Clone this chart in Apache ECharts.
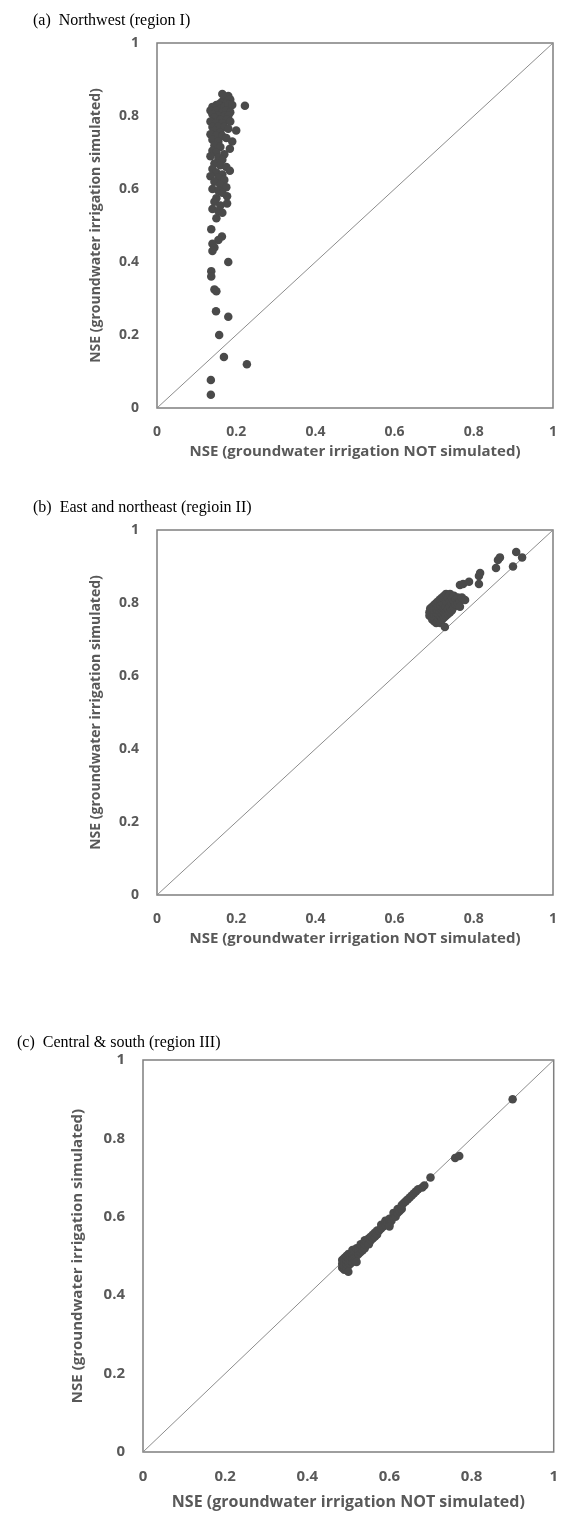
<!DOCTYPE html>
<html>
<head>
<meta charset="utf-8">
<script src="https://cdn.jsdelivr.net/npm/echarts@6/dist/echarts.min.js"></script>
<style>
html,body{margin:0;padding:0;background:#fff;}
#main{width:561px;height:1516px;}
</style>
</head>
<body>
<div id="main"></div>
<script>
// ---------- data ----------
const panelTitles = ['(a)  Northwest (region I)', '(b)  East and northeast (regioin II)', '(c)  Central & south (region III)'];
const xAxisTitle = 'NSE (groundwater irrigation NOT simulated)';
const yAxisTitle = 'NSE (groundwater irrigation simulated)';
const tickValues = [0, 0.2, 0.4, 0.6, 0.8, 1];
const diagonal = [[0, 0], [1, 1]];

// (a) Northwest: [NSE not simulated, NSE simulated]
const regionI = [
  [0.180,0.855],[0.175,0.850],[0.170,0.845],[0.185,0.845],[0.165,0.840],[0.160,0.835],[0.175,0.835],
  [0.150,0.830],[0.155,0.830],[0.140,0.825],[0.145,0.820],[0.160,0.820],[0.170,0.825],[0.180,0.830],
  [0.190,0.830],[0.135,0.815],[0.150,0.815],[0.165,0.810],[0.175,0.815],[0.185,0.810],[0.140,0.805],
  [0.155,0.800],[0.170,0.800],[0.180,0.800],[0.145,0.795],[0.160,0.790],[0.175,0.790],[0.135,0.785],
  [0.150,0.780],[0.165,0.780],[0.185,0.785],[0.140,0.770],[0.155,0.770],[0.170,0.770],[0.180,0.765],
  [0.145,0.760],[0.160,0.755],[0.200,0.760],[0.135,0.750],[0.150,0.745],[0.165,0.745],[0.175,0.740],
  [0.140,0.735],[0.155,0.730],[0.190,0.730],[0.222,0.828],[0.165,0.860],
  [0.145,0.720],[0.160,0.715],[0.184,0.710],[0.140,0.705],[0.150,0.700],[0.170,0.695],[0.135,0.690],
  [0.155,0.685],[0.165,0.680],[0.145,0.670],[0.160,0.665],[0.175,0.660],[0.140,0.655],[0.184,0.650],
  [0.150,0.645],[0.165,0.640],[0.135,0.635],[0.155,0.630],[0.170,0.625],[0.145,0.620],[0.160,0.610],
  [0.175,0.605],[0.140,0.600],[0.155,0.595],[0.165,0.590],[0.177,0.580],[0.150,0.575],[0.145,0.565],
  [0.177,0.560],[0.160,0.555],[0.140,0.545],[0.155,0.540],[0.165,0.535],[0.150,0.520],
  [0.137,0.490],[0.164,0.470],[0.155,0.460],[0.140,0.450],[0.145,0.440],[0.140,0.430],[0.180,0.400],
  [0.137,0.375],[0.137,0.360],[0.145,0.325],[0.150,0.320],[0.149,0.265],[0.180,0.250],[0.157,0.200],
  [0.169,0.140],[0.227,0.120],[0.136,0.077],[0.136,0.036]
];

// (b) East and northeast
const regionII = [
  [0.688,0.765],[0.688,0.775],[0.690,0.785],[0.695,0.755],[0.695,0.765],[0.695,0.775],[0.695,0.790],
  [0.700,0.750],[0.700,0.760],[0.700,0.770],[0.700,0.780],[0.700,0.795],[0.705,0.745],[0.705,0.765],
  [0.705,0.775],[0.705,0.785],[0.705,0.800],[0.710,0.750],[0.710,0.760],[0.710,0.770],[0.710,0.780],
  [0.710,0.790],[0.710,0.805],[0.715,0.745],[0.715,0.765],[0.715,0.775],[0.715,0.785],[0.715,0.795],
  [0.715,0.810],[0.720,0.755],[0.720,0.770],[0.720,0.780],[0.720,0.790],[0.720,0.800],[0.720,0.815],
  [0.725,0.760],[0.725,0.775],[0.725,0.785],[0.725,0.795],[0.725,0.820],[0.730,0.765],[0.730,0.780],
  [0.730,0.790],[0.730,0.805],[0.730,0.825],[0.735,0.770],[0.735,0.785],[0.735,0.815],[0.740,0.775],
  [0.740,0.790],[0.740,0.805],[0.740,0.825],[0.745,0.780],[0.745,0.800],[0.745,0.815],[0.750,0.790],
  [0.750,0.805],[0.750,0.820],[0.755,0.795],[0.755,0.810],[0.760,0.800],[0.760,0.815],[0.765,0.805],
  [0.765,0.790],[0.770,0.815],[0.727,0.734],[0.778,0.808],[0.765,0.849],[0.773,0.852],[0.788,0.858],
  [0.813,0.852],[0.813,0.874],[0.816,0.882],[0.856,0.896],[0.861,0.918],[0.866,0.925],[0.899,0.900],
  [0.907,0.940],[0.922,0.925]
];

// (c) Central & south
const regionIII = [
  [0.485,0.470],[0.485,0.480],[0.485,0.490],[0.490,0.465],[0.490,0.475],[0.490,0.485],[0.490,0.495],
  [0.495,0.470],[0.495,0.480],[0.495,0.490],[0.495,0.500],[0.500,0.475],[0.500,0.485],[0.500,0.495],
  [0.500,0.505],[0.505,0.480],[0.505,0.490],[0.505,0.500],[0.510,0.485],[0.510,0.495],[0.510,0.505],
  [0.510,0.515],[0.515,0.490],[0.515,0.500],[0.515,0.510],[0.520,0.500],[0.520,0.510],[0.520,0.520],
  [0.525,0.505],[0.525,0.515],[0.530,0.510],[0.530,0.520],[0.530,0.530],[0.535,0.515],[0.535,0.525],
  [0.540,0.520],[0.540,0.530],[0.540,0.540],[0.545,0.535],[0.550,0.530],[0.550,0.545],[0.555,0.540],
  [0.555,0.550],[0.560,0.545],[0.560,0.555],[0.565,0.550],[0.565,0.560],[0.570,0.555],[0.570,0.565],
  [0.575,0.565],[0.580,0.570],[0.580,0.580],[0.585,0.575],[0.590,0.580],[0.590,0.590],[0.595,0.585],
  [0.600,0.580],[0.600,0.595],[0.605,0.590],[0.610,0.600],[0.610,0.610],[0.615,0.600],[0.620,0.610],
  [0.620,0.620],[0.625,0.615],[0.630,0.620],[0.630,0.630],[0.635,0.635],[0.640,0.640],[0.645,0.645],
  [0.650,0.650],[0.655,0.655],[0.660,0.660],[0.665,0.665],[0.670,0.670],[0.680,0.675],[0.685,0.680],
  [0.700,0.700],[0.760,0.750],[0.770,0.755],[0.900,0.900],[0.520,0.485],[0.600,0.575],[0.500,0.460]
];

// ---------- chart ----------
const grids = [
  {left:157, top:43, width:396, height:365},
  {left:157, top:530, width:396, height:365},
  {left:143, top:1060, width:416, height:392}
];
const titlePos = [{left:28, top:8}, {left:28, top:495}, {left:12, top:1030}];
const tickFont = [14, 14, 15];
const xNameFont = [15, 15, 16];
const yNameFont = [14, 14, 15];
const yGap = [54, 54, 58];
const xGap = [36, 36, 42];
const datasets = [regionI, regionII, regionIII];

const labelColor = '#595959';
const option = {
  animation:false,
  backgroundColor:'#fff',
  title: panelTitles.map((t,i)=>({
    text:t, left:titlePos[i].left, top:titlePos[i].top,
    textStyle:{fontFamily:'Liberation Serif', fontSize:16, fontWeight:'normal', color:'#000'}
  })),
  grid: grids.map(g=>Object.assign({show:true, borderColor:'#7f7f7f', borderWidth:1.5, containLabel:false}, g)),
  xAxis: grids.map((g,i)=>({
    type:'value', gridIndex:i, min:0, max:1, interval:0.2,
    axisLine:{show:false}, axisTick:{show:false}, splitLine:{show:false},
    axisLabel:{color:labelColor, fontWeight:'bold', fontFamily:'Open Sans', fontSize:tickFont[i], margin:17},
    name:xAxisTitle, nameLocation:'middle', nameGap:xGap[i],
    nameTextStyle:{color:labelColor, fontWeight:'bold', fontFamily:'Open Sans', fontSize:xNameFont[i]}
  })),
  yAxis: grids.map((g,i)=>({
    type:'value', gridIndex:i, min:0, max:1, interval:0.2,
    axisLine:{show:false}, axisTick:{show:false}, splitLine:{show:false},
    axisLabel:{color:labelColor, fontWeight:'bold', fontFamily:'Open Sans', fontSize:tickFont[i], margin:18},
    name:yAxisTitle, nameLocation:'middle', nameGap:yGap[i],
    nameTextStyle:{color:labelColor, fontWeight:'bold', fontFamily:'Open Sans', fontSize:yNameFont[i]}
  })),
  series: []
};
datasets.forEach((d,i)=>{
  option.series.push({
    type:'line', xAxisIndex:i, yAxisIndex:i, data:diagonal, symbol:'none', silent:true,
    lineStyle:{color:'#8c8c8c', width:1}, z:1
  });
  option.series.push({
    type:'scatter', xAxisIndex:i, yAxisIndex:i, data:d, symbol:'circle', symbolSize:8.5,
    itemStyle:{color:'#4a4a4a', opacity:1}, z:2
  });
});
const chart = echarts.init(document.getElementById('main'), null, {renderer:'canvas'});
chart.setOption(option);
</script>
</body>
</html>
